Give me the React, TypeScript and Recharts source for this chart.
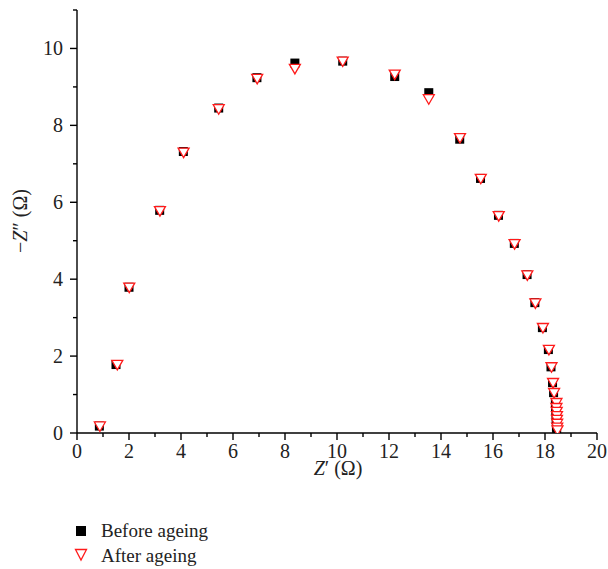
import React from 'react';
import { ScatterChart, Scatter, XAxis, YAxis, Label } from 'recharts';

// Nyquist plot, impedance values in ohm
const zRealBefore = [0.86, 1.5, 2.0, 3.18, 4.09, 5.45, 6.92, 8.38, 10.22, 12.22, 13.53, 14.72, 15.52, 16.21, 16.82, 17.31, 17.61, 17.9, 18.13, 18.23, 18.29, 18.33, 18.4, 18.41, 18.42, 18.43, 18.43, 18.44, 18.44, 18.45];
const zImagBefore = [0.18, 1.78, 3.79, 5.79, 7.32, 8.45, 9.24, 9.62, 9.67, 9.27, 8.85, 7.64, 6.62, 5.66, 4.93, 4.12, 3.39, 2.74, 2.17, 1.72, 1.31, 1.05, 0.79, 0.66, 0.56, 0.45, 0.35, 0.25, 0.15, 0.08];

const zRealAfter = [0.88, 1.55, 2.01, 3.19, 4.1, 5.45, 6.93, 8.38, 10.22, 12.22, 13.53, 14.73, 15.53, 16.22, 16.83, 17.32, 17.63, 17.92, 18.15, 18.25, 18.31, 18.35, 18.44, 18.44, 18.45, 18.46, 18.46, 18.47, 18.47, 18.48];
const zImagAfter = [0.17, 1.77, 3.78, 5.77, 7.29, 8.42, 9.21, 9.47, 9.66, 9.32, 8.68, 7.67, 6.61, 5.64, 4.91, 4.1, 3.37, 2.73, 2.16, 1.71, 1.3, 1.04, 0.78, 0.65, 0.55, 0.44, 0.34, 0.24, 0.14, 0.07];

const xTicks = [0, 1, 2, 3, 4, 5, 6, 7, 8, 9, 10, 11, 12, 13, 14, 15, 16, 17, 18, 19, 20];
const yTicks = [0, 1, 2, 3, 4, 5, 6, 7, 8, 9, 10, 11];

const seriesNames = ['Before ageing', 'After ageing'];

const FONT = '"Liberation Serif", "Times New Roman", serif';
const FONT_SIZE = 20;
const TICK_SIZE = 7;
const TICK_MARGIN = 4;

const beforeData = zRealBefore.map((x, i) => ({ x, y: zImagBefore[i] }));
const afterData = zRealAfter.map((x, i) => ({ x, y: zImagAfter[i] }));

const SquareDot = (props: any) => {
  const { cx, cy } = props;
  return <rect x={cx - 4.5} y={cy - 4.5} width={9} height={9} fill="#000" />;
};

const TriangleDot = (props: any) => {
  const { cx, cy } = props;
  return (
    <path
      d={`M${cx - 5.5},${cy - 4.5}L${cx + 5.5},${cy - 4.5}L${cx},${cy + 5}Z`}
      fill="#fff"
      stroke="#ff1a1a"
      strokeWidth={1.3}
    />
  );
};

// major ticks on even values get a label, odd values get a short minor tick
const XTick = (props: any) => {
  const { x, y, payload } = props;
  const v = payload.value;
  const major = v % 2 === 0;
  const axisY = y - TICK_SIZE - TICK_MARGIN;
  return (
    <g>
      <line x1={x} x2={x} y1={axisY} y2={axisY + (major ? 7 : 4)} stroke="#000" strokeWidth={1.4} />
      {major && (
        <text x={x} y={axisY + 25} textAnchor="middle" fontFamily={FONT} fontSize={FONT_SIZE} fill="#222">
          {v}
        </text>
      )}
    </g>
  );
};

const YTick = (props: any) => {
  const { x, y, payload } = props;
  const v = payload.value;
  const major = v % 2 === 0;
  const axisX = x + TICK_SIZE + TICK_MARGIN;
  return (
    <g>
      <line x1={axisX} x2={axisX - (major ? 7 : 4)} y1={y} y2={y} stroke="#000" strokeWidth={1.4} />
      {major && (
        <text x={axisX - 14} y={y + 7} textAnchor="end" fontFamily={FONT} fontSize={FONT_SIZE} fill="#222">
          {v}
        </text>
      )}
    </g>
  );
};

const XLabel = () => (
  <text x={338} y={475} textAnchor="middle" fontFamily={FONT} fontSize={FONT_SIZE} fill="#222">
    <tspan fontStyle="italic">Z</tspan>
    <tspan>′ (Ω)</tspan>
  </text>
);

const YLabel = () => {
  const cx = 27;
  const cy = 221;
  return (
    <text
      x={cx}
      y={cy}
      transform={`rotate(-90, ${cx}, ${cy})`}
      textAnchor="middle"
      fontFamily={FONT}
      fontSize={FONT_SIZE}
      fill="#222"
    >
      <tspan>−</tspan>
      <tspan fontStyle="italic">Z</tspan>
      <tspan>″ (Ω)</tspan>
    </text>
  );
};

const ChartLegend = () => (
  <svg width={200} height={60} style={{ position: 'absolute', left: 70, top: 515 }}>
    <rect x={6} y={11} width={10} height={10} fill="#000" />
    <text x={31} y={22} fontFamily={FONT} fontSize={19} fill="#222">
      {seriesNames[0]}
    </text>
    <path d="M5.5,34.5L16.5,34.5L11,45Z" fill="#fff" stroke="#ff1a1a" strokeWidth={1.3} />
    <text x={31} y={47} fontFamily={FONT} fontSize={19} fill="#222">
      {seriesNames[1]}
    </text>
  </svg>
);

export default function App() {
  return (
    <div style={{ position: 'absolute', left: 0, top: 0, width: 608, height: 569, background: '#fff' }}>
      <ScatterChart width={608} height={569} margin={{ top: 10, right: 11, bottom: 86, left: 0 }}>
        <XAxis
          type="number"
          dataKey="x"
          domain={[0, 20]}
          ticks={xTicks}
          interval={0}
          height={50}
          tickSize={TICK_SIZE}
          tickMargin={TICK_MARGIN}
          tickLine={false}
          tick={<XTick />}
          axisLine={{ stroke: '#000', strokeWidth: 1.4 }}
          allowDataOverflow
        >
          <Label content={<XLabel />} />
        </XAxis>
        <YAxis
          type="number"
          dataKey="y"
          domain={[0, 11]}
          ticks={yTicks}
          interval={0}
          width={77}
          tickSize={TICK_SIZE}
          tickMargin={TICK_MARGIN}
          tickLine={false}
          tick={<YTick />}
          axisLine={{ stroke: '#000', strokeWidth: 1.4 }}
          allowDataOverflow
        >
          <Label content={<YLabel />} />
        </YAxis>
        <Scatter name={seriesNames[0]} data={beforeData} shape={<SquareDot />} isAnimationActive={false} />
        <Scatter name={seriesNames[1]} data={afterData} shape={<TriangleDot />} isAnimationActive={false} />
      </ScatterChart>
      <ChartLegend />
    </div>
  );
}
